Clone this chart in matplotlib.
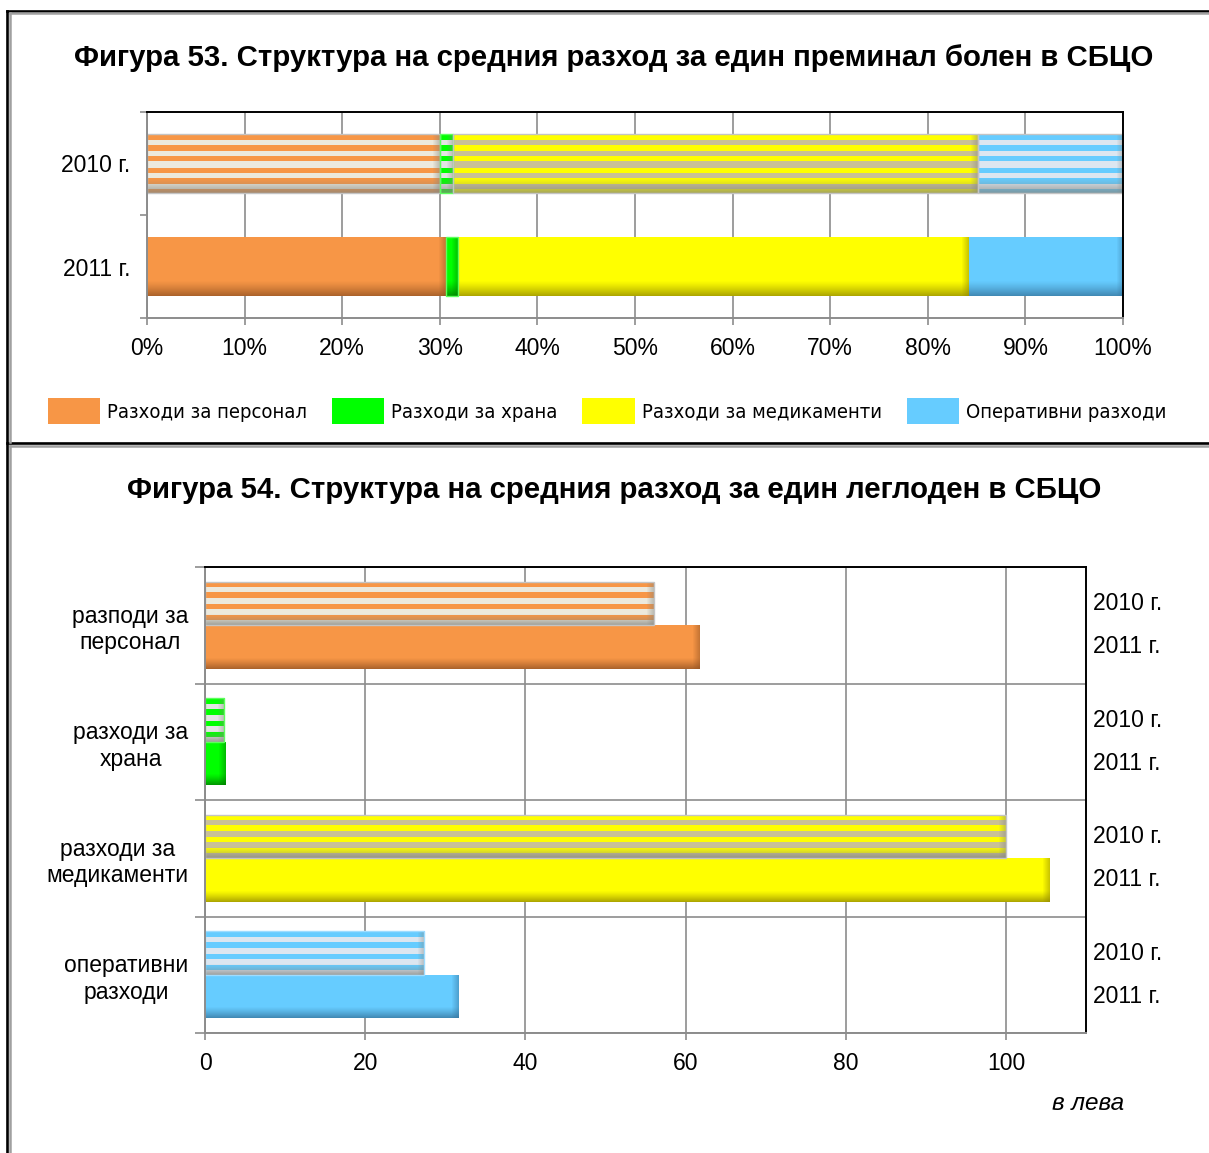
import numpy as np
import matplotlib
matplotlib.use("Agg")
import matplotlib.pyplot as plt
from matplotlib.colors import to_rgb
from matplotlib.lines import Line2D
from matplotlib.ticker import PercentFormatter

plt.rcParams["font.family"] = ["Liberation Sans", "DejaVu Sans"]

# ---------------------------------------------------------------------
# Data
# ---------------------------------------------------------------------

years = ["2010 г.", "2011 г."]
legend_labels = ["Разходи за персонал", "Разходи за храна",
                 "Разходи за медикаменти", "Оперативни разходи"]
categories = ["разподи за\nперсонал", "разходи за\nхрана",
              "разходи за\nмедикаменти", "оперативни\nразходи"]

# structure of the average cost per discharged patient, %
shares_2010 = [30.0, 1.4, 53.7, 14.9]
shares_2011 = [30.6, 1.3, 52.3, 15.8]

# average cost per bed-day, leva
values_2010 = [56.0, 2.4, 100.0, 27.4]
values_2011 = [61.8, 2.5, 105.4, 31.6]

colors = ["#F79646", "#00FF00", "#FFFF00", "#66CCFF"]
stripe_colors = ["#ECE9DD", "#E4E4E4", "#C9C196", "#DCE6F0"]
shadow_colors = ["#8C4E20", "#006E00", "#8C8200", "#326E96"]
STRIPE_SHADOW = "#85857F"

W, H = 1209, 1153


def fx(x):
    return x / W


def fy(y):
    return 1 - y / H


def shade(ax, patch, color, shadow, stripe=None, period=10.7):
    """Paint a striped / gradient texture inside a bar patch."""
    x0, y0 = patch.get_x(), patch.get_y()
    w, h = patch.get_width(), patch.get_height()
    (px0, py0), (px1, py1) = ax.transData.transform([(x0, y0), (x0 + w, y0 + h)])
    rows = max(int(round(abs(py1 - py0))), 2)
    cols = max(int(round(abs(px1 - px0))), 2)

    img = np.ones((rows, cols, 3)) * np.array(to_rgb(color))
    r = np.arange(rows)
    if stripe is not None:
        light = (r % period) / period >= 0.5
        img[light] = to_rgb(stripe)

    # darker lower edge
    t = r / (rows - 1)
    wv = (np.clip((t - 0.74) / 0.26, 0, 1) ** 1.2 * 0.7)[:, None, None]
    img = img * (1 - wv) + wv * np.array(to_rgb(shadow))

    # darker right end
    d = cols - 1 - np.arange(cols)
    wh = (np.clip(1 - d / 7.0, 0, 1) * 0.45)[None, :, None]
    img = img * (1 - wh) + wh * np.array(to_rgb(shadow))

    im = ax.imshow(img, extent=(x0, x0 + w, y0, y0 + h), aspect="auto",
                   origin="upper", interpolation="nearest", zorder=1.5)
    im.set_clip_path(patch)


def style_axes(ax):
    ax.set_axisbelow(True)
    for side in ("top", "right"):
        ax.spines[side].set_color("black")
        ax.spines[side].set_linewidth(1.4)
    for side in ("left", "bottom"):
        ax.spines[side].set_color("#8C8C8C")
        ax.spines[side].set_linewidth(1.4)
    ax.tick_params(axis="both", which="both", color="#8C8C8C", width=1.2,
                   labelsize=16.5, direction="out")


fig = plt.figure(figsize=(W / 100, H / 100), dpi=100)

# ---------------------------------------------------------------------
# Panel frames
# ---------------------------------------------------------------------

for xs, ys, c, lw in [
    ([7, 7], [10.5, H + 5], "black", 1.9),
    ([7, W + 5], [10.5, 10.5], "black", 1.9),
    ([7, W + 5], [443, 443], "black", 1.9),
    ([9.8, 9.8], [13, 441.5], "#A0A0A0", 1.8),
    ([9.8, W + 5], [13, 13], "#A0A0A0", 1.8),
    ([9.8, 9.8], [445.5, H + 5], "#A0A0A0", 1.8),
    ([9.8, W + 5], [445.5, 445.5], "#A0A0A0", 1.8),
]:
    fig.add_artist(Line2D([fx(v) for v in xs], [fy(v) for v in ys],
                          color=c, lw=lw, transform=fig.transFigure))

# ---------------------------------------------------------------------
# Figure 53: 100% stacked bars
# ---------------------------------------------------------------------

fig.text(fx(614), fy(58),
         "Фигура 53. Структура на средния разход за един преминал болен в СБЦО",
         ha="center", va="center", fontsize=21.2, fontweight="bold")

ax1 = fig.add_axes([fx(147), fy(318), (1123 - 147) / W, (318 - 112) / H])
ax1.set_xlim(0, 100)
ax1.set_ylim(-0.5, 1.5)
style_axes(ax1)

bar_h1 = 0.565
left10 = np.cumsum([0] + shares_2010[:-1])
left11 = np.cumsum([0] + shares_2011[:-1])
handles = []
for i in range(4):
    b10 = ax1.barh(1, shares_2010[i], left=left10[i], height=bar_h1,
                   color=colors[i], zorder=1)
    b11 = ax1.barh(0, shares_2011[i], left=left11[i], height=bar_h1,
                   color=colors[i], zorder=1)
    handles.append(b11)
    shade(ax1, b10.patches[0], colors[i], STRIPE_SHADOW, stripe_colors[i])
    shade(ax1, b11.patches[0], colors[i], shadow_colors[i])
    edge = "#5CFF5C" if i == 1 else "#C4C4C4"
    ax1.barh(1, shares_2010[i], left=left10[i], height=bar_h1, fill=False,
             edgecolor=edge, lw=1.0, zorder=2)
    if i == 1:
        ax1.barh(0, shares_2011[i], left=left11[i], height=bar_h1, fill=False,
                 edgecolor=edge, lw=1.0, zorder=2)

ax1.set_xticks(np.arange(0, 101, 10))
ax1.xaxis.set_major_formatter(PercentFormatter(decimals=0))
ax1.xaxis.grid(True, color="#8C8C8C", lw=1.2)
ax1.tick_params(axis="x", length=5, pad=9)
ax1.set_yticks([1, 0], years)
ax1.set_yticks([-0.5, 0.5, 1.5], minor=True)
ax1.tick_params(axis="y", which="major", length=0, pad=12)
ax1.tick_params(axis="y", which="minor", length=5)

leg = fig.legend([h.patches[0] for h in handles], legend_labels,
                 loc="center", bbox_to_anchor=(fx(607), fy(411)), ncol=4,
                 frameon=False, handlelength=2.59, handleheight=1.54,
                 handletextpad=0.35, columnspacing=1.24,
                 prop={"family": "DejaVu Sans", "stretch": "condensed",
                       "size": 14.5})

# ---------------------------------------------------------------------
# Figure 54: cost per bed-day
# ---------------------------------------------------------------------

fig.text(fx(614), fy(490),
         "Фигура 54. Структура на средния разход за един леглоден в СБЦО",
         ha="center", va="center", fontsize=21.2, fontweight="bold")

ax2 = fig.add_axes([fx(205), fy(1033), (1086 - 205) / W, (1033 - 567) / H])
ax2.set_xlim(0, 110)
ax2.set_ylim(-0.5, 3.5)
style_axes(ax2)

bar_h2 = 0.373
ypos = np.arange(len(categories))[::-1]
for i in range(4):
    b10 = ax2.barh(ypos[i] + bar_h2 / 2, values_2010[i], height=bar_h2,
                   color=colors[i], zorder=1)
    b11 = ax2.barh(ypos[i] - bar_h2 / 2, values_2011[i], height=bar_h2,
                   color=colors[i], zorder=1)
    shade(ax2, b10.patches[0], colors[i], STRIPE_SHADOW, stripe_colors[i])
    shade(ax2, b11.patches[0], colors[i], shadow_colors[i])
    edge = "#5CFF5C" if i == 1 else ("#9EDCFF" if i == 3 else "#C4C4C4")
    ax2.barh(ypos[i] + bar_h2 / 2, values_2010[i], height=bar_h2, fill=False,
             edgecolor=edge, lw=1.0, zorder=2)

    # year labels to the right of the plot area
    for yy, lab in [(ypos[i] + bar_h2 / 2, years[0]), (ypos[i] - bar_h2 / 2, years[1])]:
        ax2.annotate(lab, xy=(1, yy), xycoords=("axes fraction", "data"),
                     xytext=(5, 0), textcoords="offset points",
                     ha="left", va="center", fontsize=16.5)

ax2.set_xticks(np.arange(0, 101, 20))
ax2.xaxis.grid(True, color="#8C8C8C", lw=1.2)
ax2.tick_params(axis="x", length=5, pad=9)
ax2.set_yticks(ypos, categories)
for lab in ax2.get_yticklabels():
    lab.set_multialignment("center")
ax2.set_yticks([-0.5, 0.5, 1.5, 2.5, 3.5], minor=True)
ax2.yaxis.grid(True, which="minor", color="#8C8C8C", lw=1.2)
ax2.tick_params(axis="y", which="major", length=0, pad=12)
ax2.tick_params(axis="y", which="minor", length=7)

fig.text(fx(1088), fy(1103), "в лева", ha="center", va="center",
         fontsize=17.5, fontstyle="italic")

fig.savefig("out.png", dpi=100)
